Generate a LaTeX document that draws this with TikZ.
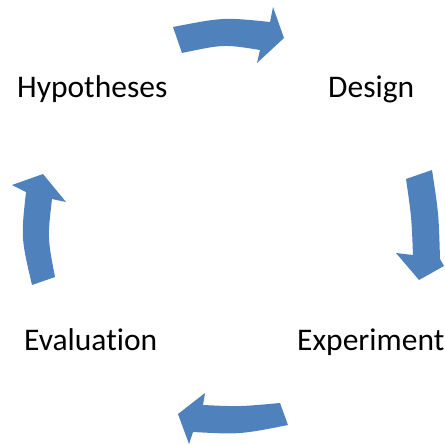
\documentclass[tikz,border=0pt]{standalone}
\usepackage{fontspec}
\setmainfont{Carlito}[Ligatures=NoCommon]
\definecolor{arrowblue}{HTML}{4F81BD}
\tikzset{
  lbl/.style={anchor=base west, inner sep=0pt, font=\fontsize{31.5}{36}\selectfont},
  cyclearrow/.style={fill=arrowblue, draw=none}
}
\begin{document}
\begin{tikzpicture}[x=1pt,y=-1pt]
\useasboundingbox (0,0) rectangle (444,444);
\node[lbl] (hyp) at (17,97) {Hypotheses};
\node[lbl] (des) at (328,97) {Design};
\node[lbl] (eva) at (24,350) {Evaluation};
\node[lbl] (exp) at (297,350) {Experiment};
% top arrow
\fill[cyclearrow] (173,27) .. controls (223.5,17.2) .. (270,22) -- (273,7) -- (284,38) -- (257,63) -- (260,50) .. controls (223.7,44.2) .. (182,53) -- cycle;
% right arrow
\fill[cyclearrow] (406,179) -- (432,170) .. controls (438.7,213.8) .. (440,259) -- (444,266) -- (419,280) -- (396,253) -- (413,255) .. controls (411.5,217) .. (406,179) -- cycle;
% bottom arrow
\fill[cyclearrow] (288,425) .. controls (239.8,434.5) .. (193,432) -- (189,444) -- (178,414) -- (205,393) -- (203,405) .. controls (239.5,406.7) .. (280,403) -- cycle;
% left arrow
\fill[cyclearrow] (32,285) .. controls (21,237.8) .. (26,192) -- (12,185) -- (43,174) -- (66,202) -- (52,199) .. controls (47.5,238) .. (55,277) -- cycle;
\end{tikzpicture}
\end{document}
